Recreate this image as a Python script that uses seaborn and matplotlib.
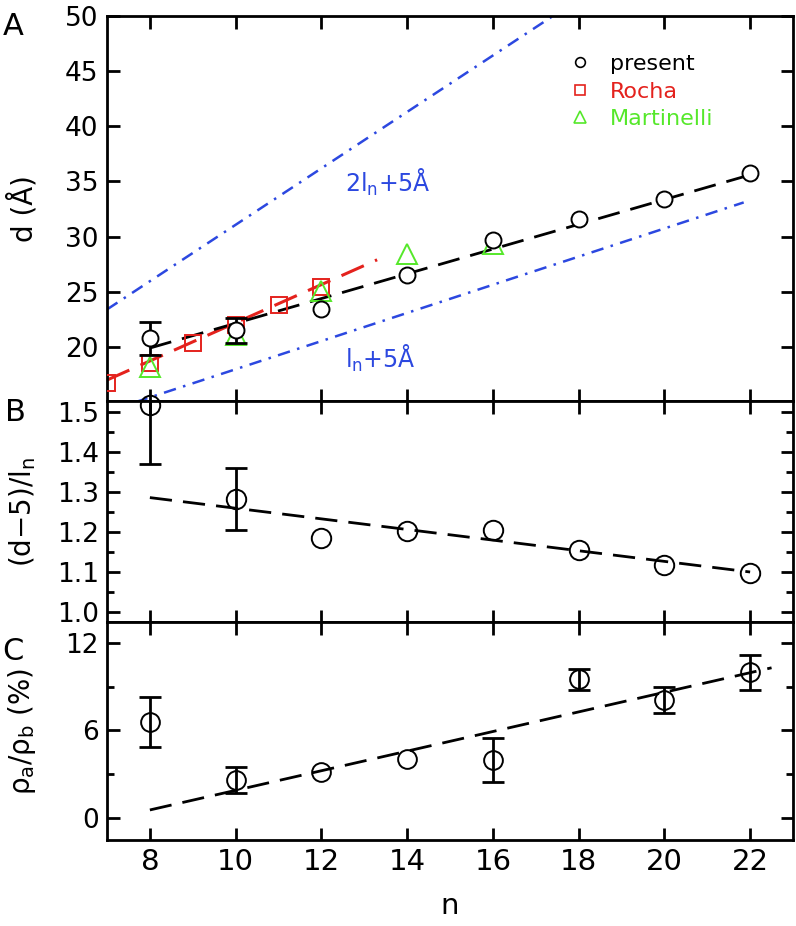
import matplotlib
matplotlib.use("Agg")
import matplotlib.pyplot as plt
from matplotlib.lines import Line2D
from matplotlib.ticker import MultipleLocator
import seaborn as sns

# ---- data ----
n_vals = [8, 10, 12, 14, 16, 18, 20, 22]

# panel A: spacing d (Angstrom)
d_present = [20.8, 21.5, 23.4, 26.5, 29.7, 31.6, 33.4, 35.8]
d_err = [1.5, 1.1, 0, 0, 0, 0, 0, 0]
n_rocha = [7, 8, 9, 10, 11, 12]
d_rocha = [16.7, 18.5, 20.4, 22.0, 23.8, 25.4]
n_martinelli = [8, 10, 12, 14, 16]
d_martinelli = [18.2, 21.1, 25.1, 28.4, 29.3]
fit_a_n = [8, 22]
fit_a_d = [19.9, 35.6]
fit_rocha_n = [7, 13.3]
fit_rocha_d = [17.0, 27.9]
upper_n = [7, 17.4]          # 2 l_n + 5 A
upper_d = [23.4, 50.0]
lower_n = [7, 21.85]         # l_n + 5 A
lower_d = [14.15, 33.1]

# panel B: (d-5)/l_n
ratio_b = [1.517, 1.283, 1.185, 1.202, 1.205, 1.155, 1.117, 1.097]
ratio_b_err = [0.147, 0.077, 0, 0, 0, 0, 0, 0]
fit_b_n = [8, 22]
fit_b_r = [1.286, 1.100]

# panel C: rho_a / rho_b (%)
ratio_c = [6.6, 2.6, 3.15, 4.05, 4.0, 9.5, 8.1, 10.0]
ratio_c_err = [1.7, 0.9, 0, 0, 1.5, 0.75, 0.9, 1.2]
fit_c_n = [8, 22.5]
fit_c_r = [0.55, 10.3]

RED = "#e4221d"
GREEN = "#55e82a"
BLUE = "#2c48e0"

sns.set_style("ticks")
plt.rcParams["font.family"] = ["DejaVu Sans"]
plt.rcParams["mathtext.default"] = "regular"
plt.rcParams["axes.linewidth"] = 2.0
for key in ("text.color", "axes.labelcolor", "xtick.color", "ytick.color"):
    plt.rcParams[key] = "black"

W, H = 796, 926
fig = plt.figure(figsize=(W / 100, H / 100), dpi=100)


def box(top, bottom):
    return [107 / W, 1 - bottom / H, (793 - 107) / W, (bottom - top) / H]


ax_a = fig.add_axes(box(16, 401))
ax_b = fig.add_axes(box(401, 622))
ax_c = fig.add_axes(box(622, 840))

dash_black = (0, (8, 4))
dash_dot = (0, (5, 3, 1, 3))


def errbars(ax, x, y, err):
    xs = [a for a, e in zip(x, err) if e > 0]
    ys = [b for b, e in zip(y, err) if e > 0]
    es = [e for e in err if e > 0]
    ax.errorbar(xs, ys, yerr=es, fmt="none", ecolor="black", elinewidth=2,
                capsize=8, capthick=2, zorder=4)


# ---- panel A ----
sns.lineplot(x=upper_n, y=upper_d, ax=ax_a, color=BLUE, lw=1.8, linestyle=dash_dot)
sns.lineplot(x=lower_n, y=lower_d, ax=ax_a, color=BLUE, lw=1.8, linestyle=dash_dot)
sns.lineplot(x=fit_rocha_n, y=fit_rocha_d, ax=ax_a, color=RED, lw=2.2, linestyle=dash_black)
sns.lineplot(x=fit_a_n, y=fit_a_d, ax=ax_a, color="black", lw=2.0, linestyle=dash_black)
sns.lineplot(x=n_rocha, y=d_rocha, ax=ax_a, color=RED, linestyle="", marker="s",
             markersize=12, markerfacecolor="none", markeredgecolor=RED,
             markeredgewidth=1.4, zorder=3)
sns.lineplot(x=n_martinelli, y=d_martinelli, ax=ax_a, color=GREEN, linestyle="", marker="^",
             markersize=14, markerfacecolor="none", markeredgecolor=GREEN,
             markeredgewidth=1.4, zorder=3)
errbars(ax_a, n_vals, d_present, d_err)
sns.lineplot(x=n_vals, y=d_present, ax=ax_a, color="black", linestyle="", marker="o",
             markersize=11.5, markerfacecolor="white", markeredgecolor="black",
             markeredgewidth=1.4, zorder=5)

ax_a.text(12.55, 34.1, "2l$_{n}$+5Å", color=BLUE, fontsize=17, va="baseline")
ax_a.text(12.55, 18.1, "l$_{n}$+5Å", color=BLUE, fontsize=17, va="baseline")

handles = [
    Line2D([], [], linestyle="", marker="o", markersize=7, markerfacecolor="none",
           markeredgecolor="black", markeredgewidth=1.2),
    Line2D([], [], linestyle="", marker="s", markersize=7, markerfacecolor="none",
           markeredgecolor=RED, markeredgewidth=1.2),
    Line2D([], [], linestyle="", marker="^", markersize=8, markerfacecolor="none",
           markeredgecolor=GREEN, markeredgewidth=1.2),
]
ax_a.legend(handles, ["present", "Rocha", "Martinelli"], loc="upper left",
            bbox_to_anchor=(0.657, 0.93), frameon=False, fontsize=16,
            labelspacing=0.34, handlelength=1.0, handletextpad=0.86, borderpad=0,
            labelcolor=["black", RED, GREEN])

ax_a.set_ylim(15.1, 50)
ax_a.yaxis.set_major_locator(MultipleLocator(5))
ax_a.set_ylabel("d (Å)", fontsize=20)

# ---- panel B ----
sns.lineplot(x=fit_b_n, y=fit_b_r, ax=ax_b, color="black", lw=2.0, linestyle=dash_black)
errbars(ax_b, n_vals, ratio_b, ratio_b_err)
sns.lineplot(x=n_vals, y=ratio_b, ax=ax_b, color="black", linestyle="", marker="o",
             markersize=14, markerfacecolor="none", markeredgecolor="black",
             markeredgewidth=1.4, zorder=5, clip_on=False)
ax_b.set_ylim(0.975, 1.5275)
ax_b.yaxis.set_major_locator(MultipleLocator(0.1))
ax_b.yaxis.set_minor_locator(MultipleLocator(0.05))
ax_b.set_ylabel("(d$-$5)/l$_{n}$", fontsize=20)

# ---- panel C ----
sns.lineplot(x=fit_c_n, y=fit_c_r, ax=ax_c, color="black", lw=2.0, linestyle=dash_black)
errbars(ax_c, n_vals, ratio_c, ratio_c_err)
sns.lineplot(x=n_vals, y=ratio_c, ax=ax_c, color="black", linestyle="", marker="o",
             markersize=13.5, markerfacecolor="none", markeredgecolor="black",
             markeredgewidth=1.4, zorder=5)
ax_c.set_ylim(-1.51, 13.44)
ax_c.yaxis.set_major_locator(MultipleLocator(6))
ax_c.yaxis.set_minor_locator(MultipleLocator(3))
ax_c.set_ylabel(r"$\rho_a/\rho_b$ (%)", fontsize=20)
ax_c.set_xlabel("n", fontsize=21)

for ax in (ax_a, ax_b, ax_c):
    ax.set_xlim(7, 23)
    ax.xaxis.set_major_locator(MultipleLocator(2))
    ax.tick_params(which="both", direction="in", top=True, right=True, width=2)
    ax.tick_params(which="major", length=9, labelsize=19, pad=6)
    ax.tick_params(which="minor", length=5)
    ax.yaxis.set_label_coords(-0.1, 0.5)
    for s in ax.spines.values():
        s.set_linewidth(2)
        s.set_color("black")

ax_a.tick_params(labelbottom=False)
ax_b.tick_params(labelbottom=False)
ax_c.tick_params(axis="x", labelsize=21)
ax_c.xaxis.set_label_coords(0.5, -0.24)

fig.text(3 / W, 1 - 12 / H, "A", fontsize=22, va="top", ha="left")
fig.text(5 / W, 1 - 398 / H, "B", fontsize=22, va="top", ha="left")
fig.text(2 / W, 1 - 637 / H, "C", fontsize=22, va="top", ha="left")

fig.savefig("out.png", dpi=100)
